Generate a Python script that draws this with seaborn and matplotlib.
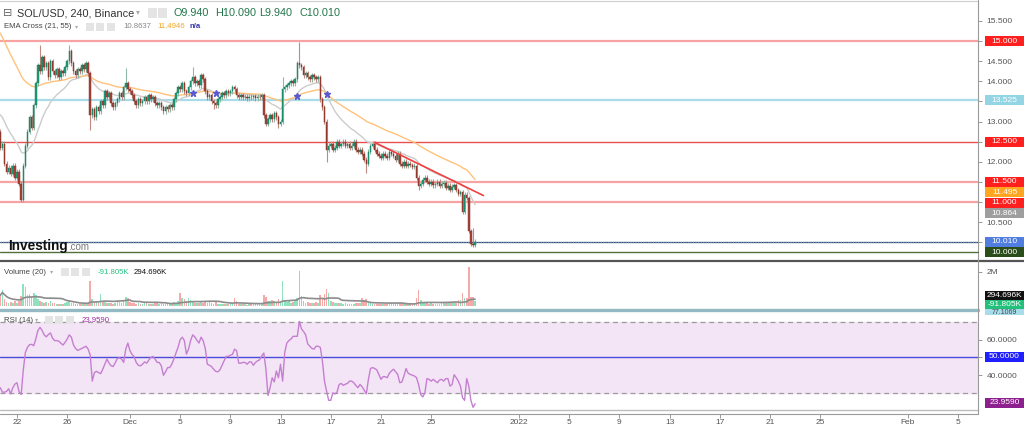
import numpy as np
import pandas as pd
import matplotlib
matplotlib.use("Agg")
import matplotlib.pyplot as plt
import matplotlib.dates as mdates
from matplotlib.lines import Line2D
from matplotlib.patches import Rectangle
import seaborn as sns

sns.set_theme(style="white")
plt.rcParams['font.family'] = ['Liberation Sans', 'DejaVu Sans']

# ---------------- data ----------------
start_time = "2021-11-20 16:00"
first_open = 12.75
closes = [
    12.35, 12.45, 11.95, 11.75, 11.85, 11.70, 11.90, 11.60, 11.75, 11.45,
    11.05, 11.90, 12.40, 12.75, 13.10, 12.85, 13.40, 13.95, 14.40, 14.25,
    14.60, 14.35, 14.45, 14.10, 14.50, 14.25, 14.15, 14.30, 14.10, 14.25,
    14.20, 14.35, 14.50, 14.75, 14.45, 14.25, 14.15, 14.30, 14.25, 14.40,
    14.30, 14.45, 14.20, 13.15, 13.30, 13.10, 13.35, 13.25, 13.50, 13.40,
    13.75, 13.60, 13.70, 13.45, 13.35, 13.45, 13.55, 13.70, 13.60, 13.85,
    13.95, 13.80, 13.75, 13.65, 13.50, 13.40, 13.55, 13.45, 13.50, 13.60,
    13.50, 13.65, 13.55, 13.60, 13.45, 13.40, 13.45, 13.35, 13.25, 13.35,
    13.30, 13.40, 13.35, 13.55, 13.70, 13.85, 13.80, 13.95, 13.75, 13.70,
    13.85, 14.00, 14.10, 13.95, 14.00, 13.90, 14.15, 14.05, 13.75, 13.60,
    13.65, 13.50, 13.45, 13.40, 13.55, 13.60, 13.70, 13.65, 13.75, 13.70,
    13.75, 13.85, 13.80, 13.65, 13.60, 13.65, 13.60, 13.62, 13.58, 13.62,
    13.60, 13.63, 13.58, 13.62, 13.60, 13.65, 13.15, 12.95, 13.05, 13.15,
    13.05, 13.20, 13.10, 12.95, 13.00, 13.80, 13.85, 13.90, 13.95, 14.00,
    13.95, 14.05, 14.45, 14.40, 14.35, 14.15, 14.20, 14.10, 14.05, 14.15,
    14.10, 14.05, 14.10, 13.55, 13.35, 13.00, 12.30, 12.40, 12.45, 12.30,
    12.35, 12.50, 12.40, 12.45, 12.50, 12.40, 12.45, 12.35, 12.40, 12.50,
    12.30, 12.25, 12.30, 12.20, 12.05, 11.95, 12.25, 12.40, 12.45, 12.30,
    12.20, 12.15, 12.10, 12.20, 12.15, 12.10, 12.25, 12.20, 12.15, 12.05,
    12.20, 11.95, 11.90, 12.00, 11.90, 11.95, 11.92, 11.88, 11.90, 11.60,
    11.40, 11.45, 11.55, 11.60, 11.50, 11.45, 11.50, 11.42, 11.45, 11.50,
    11.40, 11.45, 11.48, 11.35, 11.40, 11.30, 11.38, 11.42, 11.30, 11.20,
    11.25, 10.76, 11.18, 11.10, 10.28, 9.96, 9.94, 10.01,
]
wick_high = {0: 12.80, 19: 14.90, 33: 14.90, 60: 14.33, 92: 14.36,
             135: 14.10, 143: 14.98, 226: 10.35, 227: 10.09}
wick_low = {10: 11.00, 43: 12.79, 102: 13.30, 133: 12.84, 156: 12.00,
            175: 11.72, 200: 11.30, 225: 9.90, 227: 9.94}
volumes_k = [
    630, 960, 420, 220, 180, 250, 150, 300, 200, 280,
    600, 1300, 1100, 650, 700, 550, 750, 620, 430, 300,
    250, 180, 220, 150, 280, 200, 160, 120, 140, 100,
    130, 180, 250, 300, 200, 150, 120, 100, 90, 110,
    130, 120, 200, 1470, 400, 230, 250, 180, 730, 300,
    250, 200, 150, 180, 120, 200, 330, 250, 200, 300,
    530, 480, 250, 180, 150, 120, 200, 100, 130, 150,
    240, 120, 100, 130, 210, 150, 110, 160, 120, 100,
    140, 120, 180, 250, 200, 300, 760, 450, 400, 300,
    470, 350, 250, 200, 180, 150, 220, 150, 260, 200,
    240, 150, 120, 250, 100, 130, 110, 90, 120, 100,
    150, 200, 490, 300, 120, 100, 90, 110, 80, 100,
    120, 90, 100, 110, 90, 120, 620, 550, 300, 280,
    350, 300, 260, 400, 250, 1470, 350, 250, 300, 200,
    250, 300, 450, 2040, 600, 300, 200, 250, 180, 200,
    150, 220, 180, 650, 500, 700, 980, 750, 300, 250,
    200, 180, 150, 200, 130, 150, 120, 100, 130, 110,
    150, 200, 180, 490, 350, 400, 200, 150, 120, 100,
    130, 110, 100, 90, 120, 100, 130, 150, 110, 200,
    150, 180, 150, 120, 100, 90, 110, 100, 130, 500,
    920, 350, 250, 200, 150, 130, 150, 110, 100, 120,
    140, 200, 150, 250, 150, 220, 200, 250, 200, 350,
    350, 780, 450, 500, 2300, 530, 520, 295,
]
rsi_values = [
    33.0, 30.5, 30.5, 30.9, 32.4, 29.5, 33.0, 35.0, 35.8, 30.7,
    29.2, 43.0, 52.8, 55.7, 57.2, 57.4, 56.6, 60.4, 65.2, 66.9,
    65.2, 62.7, 61.6, 62.9, 63.8, 60.8, 59.5, 59.5, 59.1, 58.0,
    57.0, 58.5, 60.4, 62.7, 61.4, 57.0, 55.1, 54.0, 54.5, 55.1,
    55.7, 56.3, 54.7, 51.3, 36.7, 41.5, 42.2, 41.5, 40.9, 43.4,
    46.2, 49.1, 46.8, 45.3, 44.9, 47.2, 49.4, 49.8, 49.1, 47.2,
    54.7, 58.1, 53.8, 51.7, 50.4, 47.2, 45.6, 45.3, 46.2, 47.5,
    46.8, 48.5, 50.0, 50.6, 49.1, 47.2, 47.2, 45.3, 40.0, 41.9,
    44.3, 44.3, 46.2, 49.1, 52.5, 55.7, 60.0, 61.4, 59.5, 51.9,
    54.7, 59.5, 62.7, 61.6, 59.7, 58.1, 61.4, 59.5, 55.1, 46.2,
    45.6, 44.9, 43.4, 42.2, 41.9, 43.0, 45.6, 48.1, 50.6, 50.6,
    51.3, 51.7, 54.7, 53.8, 46.8, 46.8, 47.2, 47.2, 46.2, 47.5,
    47.5, 45.6, 47.2, 48.1, 48.7, 50.9, 52.5, 43.4, 28.6, 33.0,
    38.6, 36.2, 42.4, 38.6, 46.2, 36.7, 52.8, 58.1, 59.5, 60.4,
    61.9, 61.9, 61.9, 70.3, 66.1, 64.6, 62.7, 57.6, 56.3, 55.1,
    54.7, 56.3, 56.3, 55.7, 48.1, 36.7, 31.1, 25.9, 25.9, 30.1,
    29.5, 30.5, 34.8, 35.4, 34.3, 35.0, 35.4, 36.7, 36.7, 35.8,
    34.3, 33.0, 34.8, 33.5, 31.6, 29.5, 37.7, 43.8, 44.3, 43.8,
    43.0, 40.5, 37.7, 39.2, 39.2, 38.6, 41.1, 42.4, 43.4, 41.9,
    40.5, 35.8, 36.2, 39.6, 43.8, 41.1, 40.5, 40.0, 39.6, 38.6,
    34.8, 29.2, 27.8, 30.1, 38.1, 37.7, 36.7, 37.7, 36.7, 35.8,
    37.3, 37.7, 36.7, 38.1, 38.1, 33.9, 34.8, 40.3, 38.6, 36.7,
    33.9, 27.3, 25.9, 38.1, 33.9, 25.9, 22.0, 23.96,
]
ema_periods = [21, 55]
ema_seeds = [13.25, 15.30]          # EMA values just before the first visible candle
ema_last = [10.8637, 11.4946]
cross_candles = [92, 103, 142, 156]  # candles where the picture shows EMA-cross stars
levels = [15.0, 13.525, 12.5, 11.5, 11.0]
level_label_values = [15.0, 13.525, 12.5, 11.5, 11.0, 10.0]
trend_dates = ["2021-12-20 12:00", "2021-12-29 04:00"]
trend_prices = [12.48, 11.16]
ohlc_names = ["O", "H", "L", "C"]
ohlc_last = ["9.940", "10.090", "9.940", "10.010"]
last_close = 10.010
vol_last = ["-91.805K", "294.696K"]
rsi_last = 23.9590
price_ticks = [10.0, 10.5, 11.0, 11.5, 12.0, 12.5, 13.0, 13.5, 14.0, 14.5, 15.0, 15.5]
price_tick_shown = [10.5, 12.0, 13.0, 14.0, 14.5, 15.5]
rsi_ticks = [40, 50, 60]
rsi_tick_shown = [40, 60]
tick_dates = ["2021-11-22", "2021-11-26", "2021-12-01", "2021-12-05", "2021-12-09",
              "2021-12-13", "2021-12-17", "2021-12-21", "2021-12-25", "2022-01-01",
              "2022-01-05", "2022-01-09", "2022-01-13", "2022-01-17", "2022-01-21",
              "2022-01-25", "2022-02-01", "2022-02-05"]
tick_labels = ["22", "26", "Dec", "5", "9", "13", "17", "21", "25", "2022",
               "5", "9", "13", "17", "21", "25", "Feb", "5"]

# ---------------- derived ----------------
times = pd.date_range(start_time, periods=len(closes), freq="4h")
x = mdates.date2num(times)
c = np.array(closes)
o = np.array([first_open] + closes[:-1])
hi = np.maximum(o, c) + 0.06
lo = np.minimum(o, c) - 0.06
for k, v in wick_high.items():
    hi[k] = max(hi[k], v)
for k, v in wick_low.items():
    lo[k] = min(lo[k], v)
up = c >= o

emas = []
for p, s in zip(ema_periods, ema_seeds):
    e = pd.Series([s] + closes).ewm(span=p, adjust=False).mean().values[1:]
    emas.append(e)
vol = np.array(volumes_k) / 1000.0
vol_ma = pd.Series(vol).rolling(20, min_periods=1).mean().values

# ---------------- layout ----------------
W, H = 1024, 428
fig = plt.figure(figsize=(W / 100, H / 100), dpi=100)
fig.patch.set_facecolor("white")


def rect(x0, y0, x1, y1):
    return [x0 / W, 1 - y1 / H, (x1 - x0) / W, (y1 - y0) / H]


ax = fig.add_axes(rect(0, 1, 978, 260))
axv = fig.add_axes(rect(0, 262, 978, 309))
axr = fig.add_axes(rect(0, 311, 978, 410))
axx = fig.add_axes(rect(0, 414, 978, 428))

d22 = mdates.date2num(pd.Timestamp("2021-11-22"))
PXD = 12.55
xl, xr = d22 - 17 / PXD, d22 + 961 / PXD
Y_TOP, Y_BOT = 15.994, 9.559
V_TOP, V_BOT = 2.588, -0.176
R_TOP, R_BOT = 76.14, 20.45

for a in (ax, axv, axr, axx):
    a.set_xlim(xl, xr)
    a.set_facecolor("none")
    for s in a.spines.values():
        s.set_visible(False)
    a.tick_params(axis="x", bottom=False, labelbottom=False)

ax.set_ylim(Y_BOT, Y_TOP)
axv.set_ylim(V_BOT, V_TOP)
axr.set_ylim(R_BOT, R_TOP)
axx.set_ylim(0, 1)

# ---------------- main panel ----------------
lev_colors = ["#f7a3a3", "#a9dce8", "#e65050", "#f7a3a3", "#f7a3a3"]
lev_widths = [1.6, 1.6, 1.0, 1.6, 1.6]
for v, col, lw in zip(levels, lev_colors, lev_widths):
    ax.axhline(v, color=col, lw=lw, zorder=1)
ax.axhline(last_close, color="#34496a", lw=0.9, zorder=1)
ax.axhline(last_close, color="#6f8fbf", lw=0.9, ls=(0, (1, 1)), zorder=1)

sns.lineplot(x=x, y=emas[0], ax=ax, color="#cccccc", lw=1.0, legend=False, zorder=2)
sns.lineplot(x=x, y=emas[1], ax=ax, color="#ffc27a", lw=1.0, legend=False, zorder=2)
ax.plot(x[cross_candles], emas[1][cross_candles], ls="none", marker="*", ms=4.5,
        color="#5a5ad0", zorder=5)

ax.vlines(x, lo, hi, colors=np.where(up, "#8db8a5", "#c08a82"), lw=0.8, zorder=3)
ax.bar(x, np.maximum(np.abs(c - o), 0.018), bottom=np.minimum(o, c), width=0.12,
       color=np.where(up, "#1e9e78", "#a8463c"),
       edgecolor=np.where(up, "#14755a", "#74291f"), lw=0.3, zorder=4)

tx = mdates.date2num(pd.to_datetime(trend_dates))
sns.lineplot(x=tx, y=trend_prices, ax=ax, color="#f04040", lw=1.2, legend=False, zorder=4)

ax.yaxis.tick_right()
ax.set_yticks(price_ticks)
ax.set_yticklabels([f"{t:.3f}" if t in price_tick_shown else "" for t in price_ticks])

# ---------------- volume panel ----------------
axv.bar(x, vol, width=0.13, color=np.where(up, "#8fe2bd", "#f6a9a9"), lw=0, zorder=2)
sns.lineplot(x=x, y=vol_ma, ax=axv, color="#8c8c8c", lw=1.2, legend=False, zorder=3)
axv.yaxis.tick_right()
axv.set_yticks([2.0])
axv.set_yticklabels(["2M"])

# ---------------- RSI panel ----------------
axr.axhspan(30, 70, color="#f3e5f5", zorder=0)
axr.axhline(70, color="#9c9c9c", lw=0.9, ls=(0, (4, 3)), zorder=1)
axr.axhline(30, color="#9c9c9c", lw=0.9, ls=(0, (4, 3)), zorder=1)
axr.axhline(50, color="#4b4bdb", lw=1.0, zorder=1)
sns.lineplot(x=x, y=rsi_values, ax=axr, color="#c57fd1", lw=1.0, legend=False, zorder=3)
axr.yaxis.tick_right()
axr.set_yticks(rsi_ticks)
axr.set_yticklabels([f"{t:.4f}" if t in rsi_tick_shown else "" for t in rsi_ticks])

for a in (ax, axv, axr):
    a.tick_params(axis="y", right=True, labelright=True, length=3, width=0.6,
                  color="#888888", labelsize=6.0, labelcolor="#555555", pad=3)
    a.set_xlabel("")
    a.set_ylabel("")

# ---------------- x axis strip ----------------
txs = mdates.date2num(pd.to_datetime(tick_dates))
axx.set_yticks([])
axx.set_xticks(txs)
axx.tick_params(axis="x", top=True, bottom=False, labeltop=False, labelbottom=False,
                direction="in", length=3, width=0.6, color="#888888")
for t, lab in zip(txs, tick_labels):
    axx.text(t, 0.38, lab, ha="center", va="center", fontsize=6.0, color="#555555")


# ---------------- separators ----------------
def hline_px(y, x0, x1, color, lw):
    fig.add_artist(Line2D([x0 / W, x1 / W], [1 - y / H, 1 - y / H], color=color, lw=lw,
                          transform=fig.transFigure, zorder=6))


hline_px(0.6, 0, 978, "#cfcfcf", 0.8)
hline_px(261, 0, 1024, "#555555", 1.6)
hline_px(309.5, 0, 978, "#93b9c4", 2.4)
hline_px(410, 0, 978, "#bdbdbd", 1.0)
hline_px(414, 0, 978, "#9a9a9a", 0.8)
fig.add_artist(Line2D([978 / W, 978 / W], [1 - 414 / H, 1], color="#9a9a9a", lw=0.8,
                      transform=fig.transFigure, zorder=6))


# ---------------- right value labels ----------------
def box_label(py, txt, fc, tc="white", x0=985, x1=1024, h=10.0, fs=6.0):
    fig.add_artist(Rectangle((x0 / W, 1 - (py + h / 2) / H), (x1 - x0) / W, h / H,
                             transform=fig.transFigure, fc=fc, ec="none", zorder=8))
    fig.text((x0 + x1) / 2 / W, 1 - py / H, txt, ha="center", va="center",
             fontsize=fs, color=tc, zorder=9)


def main_py(v):
    return 1 + (Y_TOP - v) / (Y_TOP - Y_BOT) * 259


lab_items = [
    (level_label_values[0], "#ff1f1f", "white"),
    (level_label_values[1], "#93d5e4", "white"),
    (level_label_values[2], "#ff1f1f", "white"),
    (level_label_values[3], "#ff1f1f", "white"),
    (ema_last[1], "#ffa51f", "white"),
    (level_label_values[4], "#ff1f1f", "white"),
    (ema_last[0], "#9e9e9e", "white"),
    (last_close, "#4f7de0", "white"),
    (level_label_values[5], "#2b4d1a", "white"),
]
lab_items = sorted(lab_items, key=lambda t: -t[0])
prev = -1e9
for v, fc, tc in lab_items:
    py = max(main_py(v), prev + 10.4)
    prev = py
    if fc == "#2b4d1a":
        hline_px(py, 0, 978, "#55703f", 1.0)
    box_label(py, f"{v:.3f}", fc, tc)

box_label(312, "77.1069", "#a8dcea", "#444444", h=6.0, fs=5.0)
box_label(295.5, vol_last[1], "#111111", h=8.6)
box_label(304.3, vol_last[0], "#22c07a", h=8.6)
box_label(357, "50.0000", "#1f1fff")
box_label(402.5, f"{rsi_last:.4f}", "#8e1f8e")


# ---------------- legends / header ----------------
def ftext(px, py, s, **kw):
    return fig.text(px / W, 1 - py / H, s, va="center", ha="left", zorder=9, **kw)


def icons(px_list, py, size=8):
    for px in px_list:
        fig.add_artist(Rectangle((px / W, 1 - (py + size / 2) / H), size / W, size / H,
                                 transform=fig.transFigure, fc="#e4e4e4", ec="none", zorder=8))


ftext(3, 13, "\u229f", fontsize=8.0, color="#666666")
ftext(17, 13, "SOL/USD, 240, Binance", fontsize=7.8, color="#333333")
ftext(136, 13, "\u25be", fontsize=5.5, color="#aaaaaa")
icons([148, 158], 13, 9)
for px, nm, val in zip([174, 215, 259, 300], ohlc_names, ohlc_last):
    ftext(px, 13, nm + val, fontsize=7.8, color="#22774b")

ftext(4, 27, "EMA Cross (21, 55)", fontsize=5.6, color="#444444")
ftext(75, 27, "\u25be", fontsize=4.5, color="#aaaaaa")
icons([86, 96, 107], 27)
ftext(123, 27, f"{ema_last[0]:.4f}", fontsize=5.6, color="#888888")
ftext(157, 27, f"{ema_last[1]:.4f}", fontsize=5.6, color="#f5a623")
ftext(190, 27, "n/a", fontsize=5.6, color="#3535b0", fontweight="bold")

ftext(4, 272, "Volume (20)", fontsize=5.6, color="#444444")
ftext(50, 272, "\u25be", fontsize=4.5, color="#aaaaaa")
icons([61, 71, 82], 272)
ftext(98, 272, vol_last[0], fontsize=5.6, color="#26c281")
ftext(134, 272, vol_last[1], fontsize=5.6, color="#111111")

ftext(4, 320, "RSI (14)", fontsize=5.6, color="#444444")
ftext(35, 320, "\u25be", fontsize=4.5, color="#aaaaaa")
icons([45, 55, 66], 320)
ftext(82, 320, f"{rsi_last:.4f}", fontsize=5.6, color="#a12aa8")

ftext(8, 246, "Investing", fontsize=9.8, color="#111111", fontweight="bold")
ftext(68, 247.5, ".com", fontsize=7.0, color="#777777")

fig.savefig("out.png", dpi=100, facecolor="white")
